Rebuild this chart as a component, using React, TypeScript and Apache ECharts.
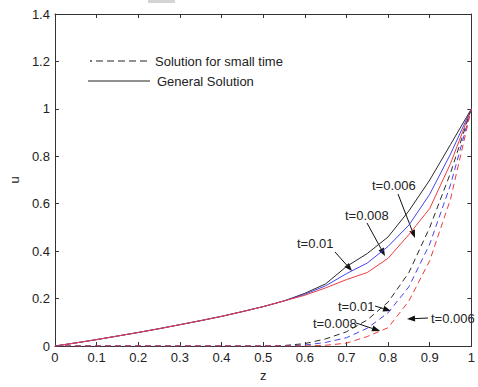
import React, { useEffect, useRef } from "react";
import * as echarts from "echarts";

const zValues = [0, 0.05, 0.1, 0.15, 0.2, 0.25, 0.3, 0.35, 0.4, 0.45, 0.5, 0.55, 0.6, 0.65, 0.7, 0.75, 0.8, 0.85, 0.9, 0.95, 1];

// General solution
const genT010 = [0, 0.013, 0.027, 0.042, 0.057, 0.073, 0.09, 0.107, 0.125, 0.145, 0.166, 0.19, 0.222, 0.262, 0.335, 0.39, 0.46, 0.57, 0.7, 0.85, 1];
const genT008 = [0, 0.013, 0.027, 0.042, 0.057, 0.073, 0.09, 0.107, 0.125, 0.145, 0.166, 0.19, 0.218, 0.254, 0.305, 0.35, 0.42, 0.51, 0.64, 0.81, 1];
const genT006 = [0, 0.013, 0.027, 0.042, 0.057, 0.073, 0.09, 0.107, 0.125, 0.145, 0.166, 0.19, 0.214, 0.245, 0.28, 0.31, 0.37, 0.47, 0.58, 0.77, 1];

// Solution for small time
const smallT010 = [0, 0, 0, 0, 0, 0, 0, 0, 0, 0, 0, 0.002, 0.01, 0.03, 0.06, 0.11, 0.185, 0.31, 0.5, 0.73, 1];
const smallT008 = [0, 0, 0, 0, 0, 0, 0, 0, 0, 0, 0, 0, 0.004, 0.015, 0.035, 0.075, 0.14, 0.25, 0.43, 0.68, 1];
const smallT006 = [0, 0, 0, 0, 0, 0, 0, 0, 0, 0, 0, 0, 0, 0.003, 0.012, 0.04, 0.077, 0.19, 0.36, 0.62, 1];

const xTicks = ["0", "0.1", "0.2", "0.3", "0.4", "0.5", "0.6", "0.7", "0.8", "0.9", "1"];
const yTicks = ["0", "0.2", "0.4", "0.6", "0.8", "1", "1.2", "1.4"];

const legendLabels = ["Solution for small time", "General Solution"];
const annotationLabels = ["t=0.006", "t=0.008", "t=0.01"];

const BLACK = "#2a2a2a";
const BLUE = "#4444ee";
const RED = "#ee3b3b";
const FONT = "'Liberation Sans', Arial, sans-serif";

function pairs(vals: number[]) {
  return zValues.map((z, i) => [z, vals[i]]);
}

function arrow(x1: number, y1: number, x2: number, y2: number) {
  const dx = x2 - x1;
  const dy = y2 - y1;
  const len = Math.sqrt(dx * dx + dy * dy);
  const ux = dx / len;
  const uy = dy / len;
  const hl = 8;
  const hw = 3;
  const bx = x2 - ux * hl;
  const by = y2 - uy * hl;
  return [
    {
      type: "line",
      shape: { x1, y1, x2: bx, y2: by },
      style: { stroke: "#111", lineWidth: 1 },
      silent: true,
    },
    {
      type: "polygon",
      shape: {
        points: [
          [x2, y2],
          [bx - uy * hw, by + ux * hw],
          [bx + uy * hw, by - ux * hw],
        ],
      },
      style: { fill: "#111" },
      silent: true,
    },
  ];
}

function label(text: string, x: number, y: number) {
  return {
    type: "text",
    x,
    y,
    style: {
      text,
      fill: "#222",
      font: `13px ${FONT}`,
      textVerticalAlign: "middle",
    },
    silent: true,
  };
}

export default function App() {
  const ref = useRef<HTMLDivElement>(null);

  useEffect(() => {
    if (!ref.current) return;
    const chart = echarts.init(ref.current, undefined, { renderer: "svg" });

    const axisCommon = {
      type: "value" as const,
      axisLine: { show: true, onZero: false, lineStyle: { color: "#333", width: 1 } },
      axisTick: { show: true, inside: true, length: 4, lineStyle: { color: "#333" } },
      splitLine: { show: false },
    };

    const lineSeries = (name: string, vals: number[], color: string, dashed: boolean) => ({
      name,
      type: "line",
      data: pairs(vals),
      showSymbol: false,
      symbol: "none",
      smooth: false,
      xAxisIndex: 0,
      yAxisIndex: 0,
      lineStyle: { color, width: 1, type: dashed ? [6, 4] : "solid" },
      itemStyle: { color },
      silent: true,
    });

    const graphics: any[] = [
      { type: "rect", shape: { x: 148, y: 0, width: 27, height: 3 }, style: { fill: "#d4d4d4" }, silent: true },
      // legend
      { type: "circle", shape: { cx: 91, cy: 61, r: 0.8 }, style: { fill: "#222" }, silent: true },
      {
        type: "line",
        shape: { x1: 96, y1: 61, x2: 148, y2: 61 },
        style: { stroke: "#222", lineWidth: 1, lineDash: [7, 4] },
        silent: true,
      },
      label(legendLabels[0], 155, 61),
      {
        type: "line",
        shape: { x1: 88, y1: 81, x2: 150, y2: 81 },
        style: { stroke: "#222", lineWidth: 1 },
        silent: true,
      },
      label(legendLabels[1], 157, 81),
      // annotations (upper, general solution)
      label(annotationLabels[0], 372, 185),
      ...arrow(398, 194, 415, 238),
      label(annotationLabels[1], 345, 215),
      ...arrow(367, 223, 385, 256),
      label(annotationLabels[2], 297, 243),
      ...arrow(335, 252, 352, 271),
      // annotations (lower, small time)
      label(annotationLabels[2], 338, 306),
      ...arrow(375, 306, 391, 311),
      label(annotationLabels[1], 313, 323),
      ...arrow(356, 323, 380, 331),
      label(annotationLabels[0], 431, 318),
      ...arrow(428, 318, 407, 319),
    ];

    chart.setOption({
      animation: false,
      backgroundColor: "#ffffff",
      textStyle: { fontFamily: FONT },
      grid: { left: 47.5, right: 1, top: 14, bottom: 32, containLabel: false },
      xAxis: [
        {
          ...axisCommon,
          position: "bottom",
          min: 0,
          max: 1,
          interval: 0.1,
          name: "z",
          nameLocation: "middle",
          nameGap: 23,
          nameTextStyle: { color: "#222", fontSize: 13, fontFamily: FONT },
          axisLabel: {
            color: "#222",
            fontSize: 13,
            fontFamily: FONT,
            margin: 5,
            formatter: (v: number) => xTicks[Math.round(v * 10)] ?? "",
          },
        },
        {
          ...axisCommon,
          position: "top",
          min: 0,
          max: 1,
          interval: 0.1,
          axisLabel: { show: false },
        },
      ],
      yAxis: [
        {
          ...axisCommon,
          position: "left",
          min: 0,
          max: 1.4,
          interval: 0.2,
          name: "u",
          nameLocation: "middle",
          nameGap: 33,
          nameRotate: 90,
          nameTextStyle: { color: "#222", fontSize: 13, fontFamily: FONT },
          axisLabel: {
            color: "#222",
            fontSize: 13,
            fontFamily: FONT,
            margin: 5,
            formatter: (v: number) => yTicks[Math.round(v * 5)] ?? "",
          },
        },
        {
          ...axisCommon,
          position: "right",
          min: 0,
          max: 1.4,
          interval: 0.2,
          axisLabel: { show: false },
        },
      ],
      series: [
        lineSeries("General t=0.01", genT010, BLACK, false),
        lineSeries("General t=0.008", genT008, BLUE, false),
        lineSeries("General t=0.006", genT006, RED, false),
        lineSeries("Small t=0.01", smallT010, BLACK, true),
        lineSeries("Small t=0.008", smallT008, BLUE, true),
        lineSeries("Small t=0.006", smallT006, RED, true),
      ],
      graphic: graphics,
    });

    return () => {
      chart.dispose();
    };
  }, []);

  return (
    <div
      ref={ref}
      style={{ position: "fixed", left: 0, top: 0, width: 478, height: 387, background: "#fff" }}
    />
  );
}
